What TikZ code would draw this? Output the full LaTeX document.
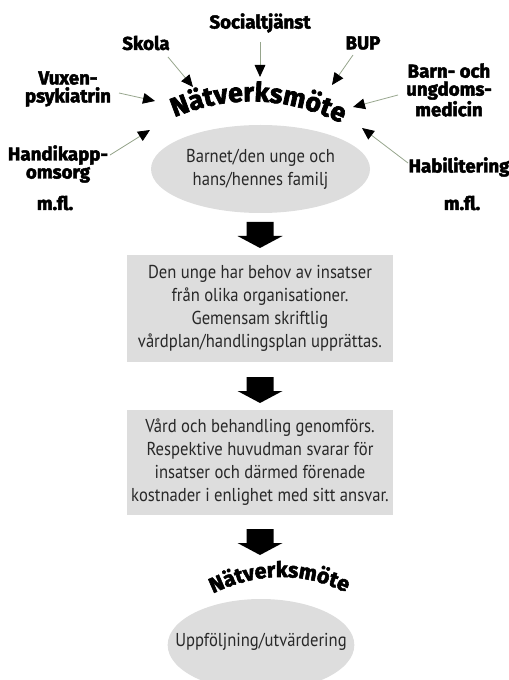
\documentclass[tikz,border=0pt]{standalone}
\usepackage{fontspec}
\setmainfont{PT Sans}[FakeStretch=0.89]
\newfontfamily\heavy{Fira Sans}[BoldFeatures={FakeBold=2.5}]
\usetikzlibrary{arrows.meta,decorations.text,shapes.geometric}
\definecolor{boxgray}{RGB}{221,221,221}
\definecolor{txtgray}{RGB}{40,40,40}
\definecolor{linegreen}{RGB}{150,165,140}
\tikzset{
  lbl/.style={font=\heavy\bfseries\fontsize{14}{13.5}\selectfont, align=center, inner sep=0pt},
  body/.style={font=\fontsize{14}{17.25}\selectfont, text=txtgray, align=center, inner sep=0pt},
  feed/.style={draw=linegreen, line width=0.6pt, -{Triangle[length=9pt,width=8pt,color=black]}},
  stepbox/.style={body, fill=boxgray, minimum width=199.5pt},
  oval/.style={body, ellipse, fill=boxgray},
}
\newcommand\blockdown[1]{\fill[black,shift={(#1)}] (-13.5,0) -- (13.5,0) -- (13.5,14) -- (22.5,14) -- (0,26) -- (-22.5,14) -- (-13.5,14) -- cycle;}
\begin{document}
\begin{tikzpicture}[x=0.75pt,y=-0.75pt]
\useasboundingbox (0,0) rectangle (508,680);
% labels
\node[lbl] (soc) at (260,23) {Socialtjänst};
\node[lbl] (sko) at (146,43) {Skola};
\node[lbl] (bup) at (363,43) {BUP};
\node[lbl] (vux) at (68,89) {Vuxen-\\psykiatrin};
\node[lbl] (barn) at (449,90) {Barn- och\\ungdoms-\\medicin};
\node[lbl] (hand) at (58,164) {Handikapp-\\omsorg};
\node[lbl] (habil) at (459,167) {Habilitering};
\node[lbl] (mfl1) at (55,203) {m.fl.};
\node[lbl] (mfl2) at (462,203) {m.fl.};
% connector ends
\coordinate (skoA) at (168,57);  \coordinate (skoB) at (193,87);
\coordinate (socA) at (260,42);  \coordinate (socB) at (260,77);
\coordinate (bupA) at (353,55);  \coordinate (bupB) at (332,85);
\coordinate (vuxA) at (119,93);  \coordinate (vuxB) at (155,101);
\coordinate (handA) at (110,155); \coordinate (handB) at (150,130);
\coordinate (barnA) at (398,95); \coordinate (barnB) at (353,107);
\coordinate (habA) at (408,163); \coordinate (habB) at (362,128);
\foreach \n in {sko,soc,bup,vux,hand,barn,hab}{\draw[feed] (\n A) -- (\n B);}
% curved title
\path[decorate, decoration={text along path, text align=center,
  text={|\heavy\bfseries\fontsize{20}{20}\selectfont|Nätverksmöte}}]
  (173,118) .. controls (229,94) and (285.7,96) .. (343,124);
% top ellipse
\node[oval, minimum width=164.25pt, minimum height=66pt] (fam) at (260.5,169)
  {Barnet/den unge och\\hans/hennes familj};
% box 1
\node[stepbox, minimum height=80.25pt] (b1) at (260,308.5)
  {Den unge har behov av insatser\\från olika organisationer.\\Gemensam skriftlig\\vårdplan/handlingsplan upprättas.};
% box 2
\node[stepbox, minimum height=78.75pt] (b2) at (260,462)
  {Vård och behandling genomförs.\\Respektive huvudman svarar för\\insatser och därmed förenade\\kostnader i enlighet med sitt ansvar.};
% block arrows
\coordinate (ar1) at (260,222);
\coordinate (ar2) at (260,377);
\coordinate (ar3) at (260,529);
\blockdown{ar1}
\blockdown{ar2}
\blockdown{ar3}
% bottom title
\path[decorate, decoration={text along path, text align=center,
  text={|\heavy\bfseries\fontsize{16}{16}\selectfont|Nätverksmöte}}]
  (212,594) .. controls (257.7,571.7) and (302.7,571.3) .. (347,593);
% bottom ellipse
\node[oval, minimum width=140pt, minimum height=69pt] (upp) at (261,645)
  {\raisebox{7pt}{\makebox[0pt]{Uppföljning/utvärdering}}};
\end{tikzpicture}
\end{document}
